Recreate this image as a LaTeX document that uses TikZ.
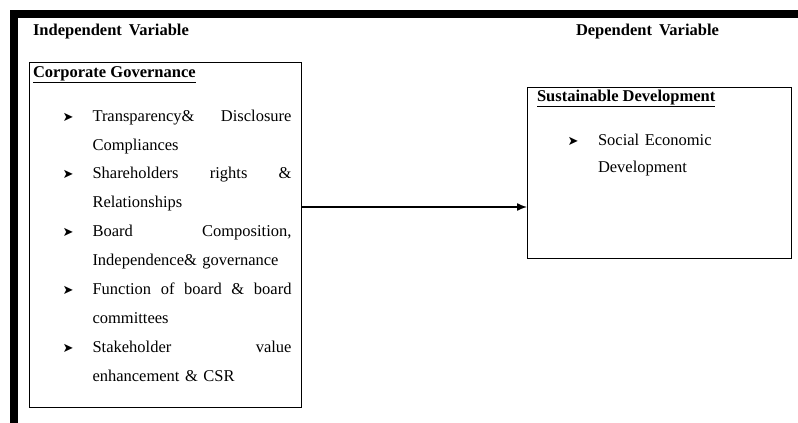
\documentclass[tikz,border=0pt]{standalone}
\usepackage{fontspec}
\setmainfont{Liberation Serif}
\newfontfamily\symfont{DejaVu Sans}
\usetikzlibrary{arrows.meta}

\begin{document}
\begin{tikzpicture}[x=1pt, y=-1pt, >={Latex[length=10pt, width=8pt]},
  every node/.style={inner sep=0pt, outer sep=0pt, font=\fontsize{16.5}{29}\selectfont},
  box/.style={draw, line width=0.8pt, anchor=north west},
  heading/.style={anchor=base west, font=\fontsize{16.5}{18}\selectfont\bfseries},
  title/.style={anchor=base west, font=\fontsize{16.5}{20}\selectfont\bfseries},
  bullet/.style={anchor=base west, font=\fontsize{13}{15}\symfont},
  entry/.style={anchor=base west, text width=199pt, align=left}]
  \useasboundingbox (0,0) rectangle (798,423);
  \fill[white] (0,0) rectangle (798,423);
  % thick frame along top and left
  \fill (10,10) rectangle (798,17.5);
  \fill (10,10) rectangle (17.5,423);
  \node[heading] (indep) at (33,35) {Independent\hspace{7pt}Variable};
  \node[heading] (dep) at (576,35) {Dependent\hspace{7pt}Variable};
  % independent variable box
  \node[box, minimum width=272pt, minimum height=344.5pt] (cg) at (29.5,62.5) {};
  \node[title] (cgtitle) at (33,77.5) {\underline{Corporate Governance}};
  \foreach \txt [count=\i, evaluate=\i as \yb using 121+57.75*(\i-1)] in {
      {Transparency\&\hfill Disclosure\\Compliances},
      {Shareholders\hfill rights\hfill \&\\Relationships},
      {Board\hfill Composition,\\Independence\& governance},
      {Function\hfill of\hfill board\hfill \&\hfill board\\committees},
      {Stakeholder\hfill value\\enhancement \& CSR}} {
    \node[bullet] (b\i) at (62.5,\yb) {➤};
    \node[entry] (item\i) at (92.5,\yb) {\txt};
  }
  % dependent variable box
  \node[box, minimum width=264pt, minimum height=171.5pt] (sd) at (527,87) {};
  \node[title] (sdtitle) at (537,101.5) {\underline{Sustainable Development}};
  \node[bullet] (sb) at (567.5,145) {➤};
  \node[entry, text width=180pt, font=\fontsize{16.5}{27}\selectfont] (social) at (598,145) {Social Economic\\Development};
  \coordinate (link) at (0,207);
  \draw[->, line width=1.4pt] (cg.east |- link) -- (sd.west |- link);
\end{tikzpicture}
\end{document}
